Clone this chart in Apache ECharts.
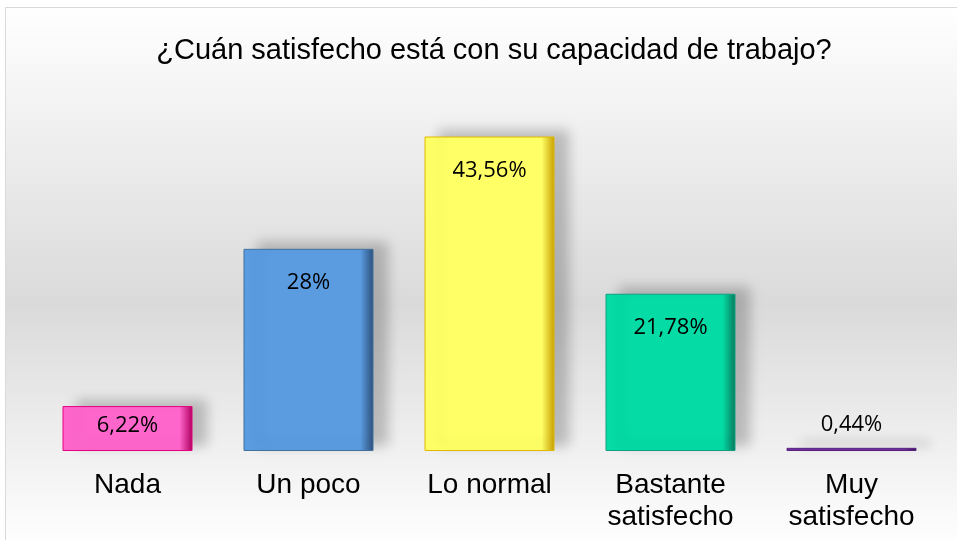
<!DOCTYPE html>
<html>
<head>
<meta charset="utf-8">
<script src="https://cdn.jsdelivr.net/npm/echarts@6/dist/echarts.min.js"></script>
<style>
  html, body { margin: 0; padding: 0; background: #fff; }
  #main { width: 957px; height: 540px; }
</style>
</head>
<body>
<div id="main"></div>
<script>
var categories = ['Nada', 'Un poco', 'Lo normal', 'Bastante\nsatisfecho', 'Muy\nsatisfecho'];
var values = [6.22, 28, 43.56, 21.78, 0.44];
var valueLabels = ['6,22%', '28%', '43,56%', '21,78%', '0,44%'];
var barColors = ['#ff66cc', '#5b9be0', '#ffff66', '#05dba4', '#7030a0'];
var edgeColors = ['#b0005f', '#2c4f7a', '#c8a000', '#067a5e', '#3a1656'];
var borderColors = ['#e6007e', '#41719c', '#e0b800', '#10a080', '#5a2080'];

var chart = echarts.init(document.getElementById('main'), null, { renderer: 'canvas' });

var seriesData = values.map(function (v, i) {
    var item = {
        value: v,
        itemStyle: {
            // darker right edge to fake the bevel
            color: new echarts.graphic.LinearGradient(0, 0, 1, 0, [
                { offset: 0, color: barColors[i] },
                { offset: 0.9, color: barColors[i] },
                { offset: 1, color: edgeColors[i] }
            ]),
            borderColor: borderColors[i],
            borderWidth: 1
        }
    };
    if (i === 0) {
        item.label = { distance: 9 };
    }
    if (i === 4) {
        item.label = { position: 'top', distance: 12 };
    }
    return item;
});

var option = {
    animation: false,
    graphic: [{
        type: 'rect',
        z: -10,
        silent: true,
        shape: { x: 5.5, y: 7.5, width: 960, height: 540 },
        style: {
            fill: new echarts.graphic.LinearGradient(0, 0, 0, 1, [
                { offset: 0, color: '#ffffff' },
                { offset: 0.55, color: '#dadada' },
                { offset: 1, color: '#ffffff' }
            ]),
            stroke: '#d9d9d9',
            lineWidth: 1
        }
    }],
    title: {
        text: '¿Cuán satisfecho está con su capacidad de trabajo?',
        left: 489,
        textAlign: 'center',
        top: 31,
        textStyle: {
            fontFamily: 'Liberation Sans',
            fontSize: 29,
            fontWeight: 'normal',
            color: '#000'
        }
    },
    grid: {
        left: 37,
        right: 15,
        top: 90,
        bottom: 89
    },
    xAxis: {
        type: 'category',
        data: categories,
        axisLine: { show: false },
        axisTick: { show: false },
        axisLabel: {
            margin: 18,
            fontFamily: 'Liberation Sans',
            fontSize: 28,
            lineHeight: 32,
            color: '#000'
        }
    },
    yAxis: {
        type: 'value',
        min: 0,
        max: 50,
        show: false,
        splitLine: { show: false }
    },
    series: [{
        type: 'bar',
        barWidth: 130,
        data: seriesData,
        itemStyle: {
            shadowColor: 'rgba(0,0,0,0.22)',
            shadowBlur: 12,
            shadowOffsetX: 14,
            shadowOffsetY: -6
        },
        label: {
            show: true,
            position: 'insideTop',
            distance: 23,
            fontFamily: 'Open Sans',
            fontSize: 22,
            color: '#000',
            formatter: function (p) { return valueLabels[p.dataIndex]; }
        }
    }]
};

chart.setOption(option);
</script>
</body>
</html>
